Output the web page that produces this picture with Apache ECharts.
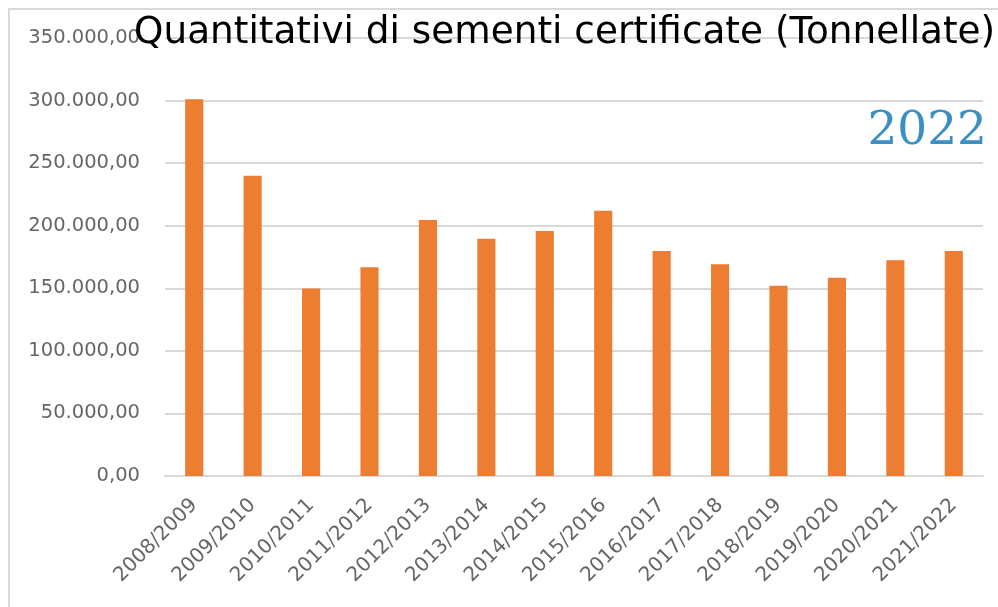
<!DOCTYPE html>
<html>
<head>
<meta charset="utf-8">
<script src="https://cdn.jsdelivr.net/npm/echarts@6/dist/echarts.min.js"></script>
<style>
  html, body { margin: 0; padding: 0; background: #fff; }
  #chart { width: 998px; height: 607px; }
</style>
</head>
<body>
<div id="chart"></div>
<script>
  // campagne di certificazione
  var campagne = ['2008/2009', '2009/2010', '2010/2011', '2011/2012', '2012/2013', '2013/2014', '2014/2015',
    '2015/2016', '2016/2017', '2017/2018', '2018/2019', '2019/2020', '2020/2021', '2021/2022']
  // tonnellate certificate
  var tonnellate = [301000, 240000, 149800, 166800, 204500, 189500, 195800,
    212000, 179800, 169200, 152000, 158400, 172400, 179800]
  var yMin = 0
  var yMax = 350000
  var yStep = 50000

  function formatIt (v) {  // 300000 -> 300.000,00
    var s = String(Math.round(v)).replace(/\B(?=(\d{3})+(?!\d))/g, '.')
    return s + ',00'
  }

  var chart = echarts.init(document.getElementById('chart'))
  chart.setOption({
    animation: false,
    title: [
      {
        text: 'Quantitativi di sementi certificate (Tonnellate)',
        left: 129,
        top: 10,
        textStyle: { fontFamily: 'DejaVu Sans', fontSize: 37.4, fontWeight: 'normal', color: '#000' }
      },
      {
        text: '2022',
        right: 6,
        top: 103,
        textStyle: { fontFamily: 'DejaVu Serif', fontSize: 47, fontWeight: 'normal', color: '#3a8fc5' }
      }
    ],
    graphic: [{
      type: 'rect',
      z: -1,
      shape: { x: 9, y: 9, width: 1200, height: 1200 },
      style: { fill: 'none', stroke: '#d9d9d9', lineWidth: 2 }
    }],
    grid: {
      left: 165,
      right: 15,
      top: 38,
      bottom: 131
    },
    xAxis: {
      type: 'category',
      data: campagne,
      axisLine: { lineStyle: { color: '#d9d9d9', width: 2 } },
      axisTick: { show: false },
      axisLabel: {
        rotate: 45,
        margin: 26,
        interval: 0,
        color: '#666',
        fontFamily: 'DejaVu Sans',
        fontSize: 20
      }
    },
    yAxis: {
      type: 'value',
      min: yMin,
      max: yMax,
      interval: yStep,
      axisLine: { show: false },
      axisTick: { show: false },
      splitLine: { lineStyle: { color: '#d9d9d9', width: 2 } },
      axisLabel: {
        margin: 25,
        color: '#666',
        fontFamily: 'DejaVu Sans',
        fontSize: 19.5,
        formatter: formatIt
      }
    },
    series: [{
      type: 'bar',
      data: tonnellate,
      barWidth: '31%',
      itemStyle: { color: '#ed7d31' }
    }]
  })
</script>
</body>
</html>
